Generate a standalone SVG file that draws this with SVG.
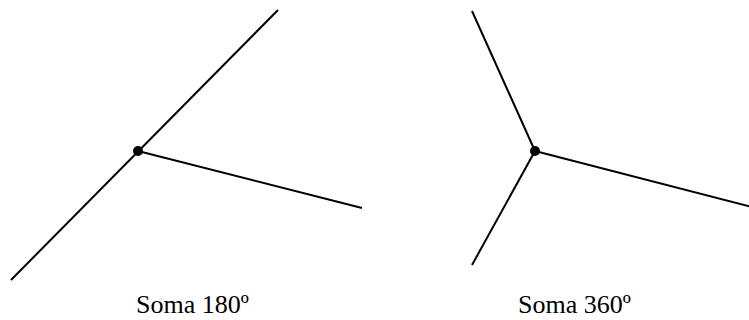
<svg xmlns="http://www.w3.org/2000/svg" width="749" height="320" viewBox="0 0 749 320">
<style>
.ln{stroke:#000;stroke-width:2;fill:none;stroke-linecap:butt}
.dot{fill:#000}
.lbl{font-family:"Liberation Serif","Times New Roman",serif;font-size:26px;fill:#000}
</style>
<rect width="749" height="320" fill="#fff"/>
<g id="connectors">
<line class="ln" x1="278" y1="10" x2="11" y2="280"/>
<line class="ln" x1="138" y1="151" x2="362" y2="208"/>
<line class="ln" x1="472" y1="11" x2="535" y2="151"/>
<line class="ln" x1="535" y1="151" x2="472" y2="265"/>
<line class="ln" x1="535" y1="151" x2="752" y2="207"/>
</g>
<g id="vertex-left"><circle class="dot" cx="138" cy="151" r="5"/></g>
<g id="vertex-right"><circle class="dot" cx="535" cy="151" r="5"/></g>
<g id="label-left"><text class="lbl" x="136" y="313">Soma 180º</text></g>
<g id="label-right"><text class="lbl" x="518" y="313">Soma 360º</text></g>
</svg>
